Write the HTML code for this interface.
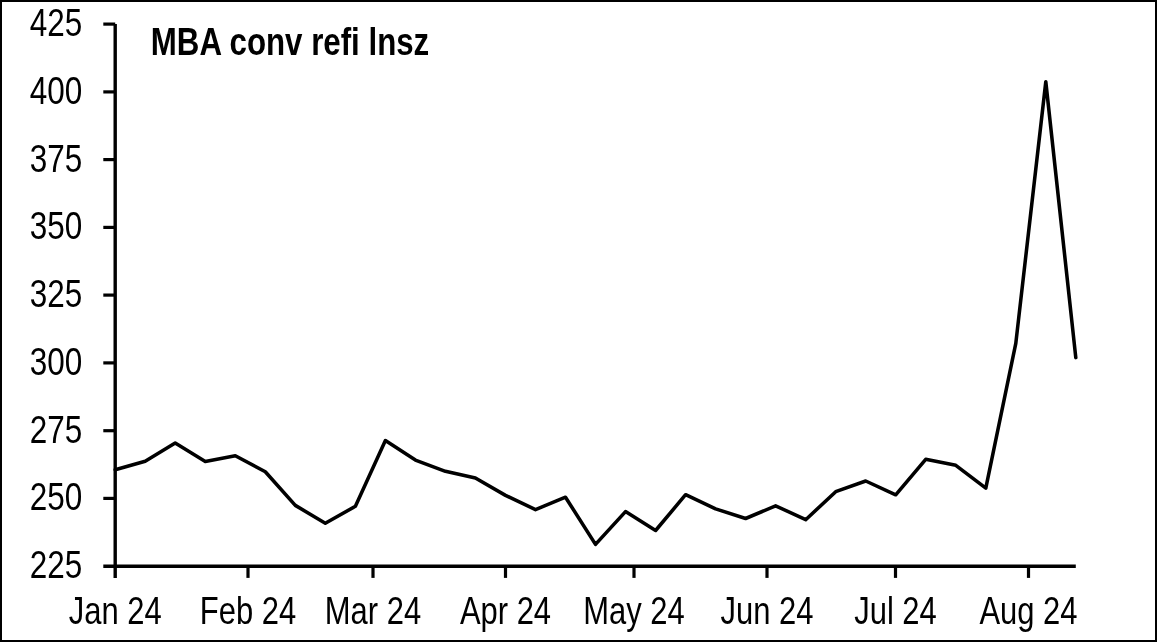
<!DOCTYPE html>
<html><head><meta charset="utf-8"><style>
html,body{margin:0;padding:0;background:#fff;}
.wrap{position:relative;width:1157px;height:642px;box-sizing:border-box;border:2px solid #000;background:#fff;overflow:hidden;}
svg{position:absolute;left:-2px;top:-2px;will-change:transform;}
.t,.b{font-family:"Liberation Sans",sans-serif;fill:#000;font-variant-ligatures:none;}
.b{font-weight:bold;}
</style></head><body><div class="wrap"><svg width="1157" height="642" viewBox="0 0 1157 642">
<line x1="115.2" y1="23.9" x2="115.2" y2="578" stroke="#000" stroke-width="3.4"/>
<line x1="103.3" y1="566.2" x2="1075.8" y2="566.2" stroke="#000" stroke-width="3.4"/>
<line x1="103.3" y1="24.1" x2="115.2" y2="24.1" stroke="#000" stroke-width="3.2"/>
<line x1="103.3" y1="91.9" x2="115.2" y2="91.9" stroke="#000" stroke-width="3.2"/>
<line x1="103.3" y1="159.6" x2="115.2" y2="159.6" stroke="#000" stroke-width="3.2"/>
<line x1="103.3" y1="227.4" x2="115.2" y2="227.4" stroke="#000" stroke-width="3.2"/>
<line x1="103.3" y1="295.1" x2="115.2" y2="295.1" stroke="#000" stroke-width="3.2"/>
<line x1="103.3" y1="362.9" x2="115.2" y2="362.9" stroke="#000" stroke-width="3.2"/>
<line x1="103.3" y1="430.7" x2="115.2" y2="430.7" stroke="#000" stroke-width="3.2"/>
<line x1="103.3" y1="498.4" x2="115.2" y2="498.4" stroke="#000" stroke-width="3.2"/>
<line x1="248.0" y1="566.2" x2="248.0" y2="577.9" stroke="#000" stroke-width="3.2"/>
<line x1="373.0" y1="566.2" x2="373.0" y2="577.9" stroke="#000" stroke-width="3.2"/>
<line x1="505.5" y1="566.2" x2="505.5" y2="577.9" stroke="#000" stroke-width="3.2"/>
<line x1="634.0" y1="566.2" x2="634.0" y2="577.9" stroke="#000" stroke-width="3.2"/>
<line x1="767.0" y1="566.2" x2="767.0" y2="577.9" stroke="#000" stroke-width="3.2"/>
<line x1="895.5" y1="566.2" x2="895.5" y2="577.9" stroke="#000" stroke-width="3.2"/>
<line x1="1028.5" y1="566.2" x2="1028.5" y2="577.9" stroke="#000" stroke-width="3.2"/>
<polyline points="115.2,469.8 145.2,461.3 175.2,443.0 205.3,461.4 235.3,455.8 265.3,471.8 295.3,505.4 325.3,523.2 355.4,506.3 385.4,440.6 415.4,460.1 445.4,471.3 475.4,478.0 505.5,495.4 535.5,509.6 565.5,497.2 595.5,544.4 625.5,511.6 655.6,530.5 685.6,494.7 715.6,508.9 745.6,518.5 775.6,505.8 805.7,519.7 835.7,491.7 865.7,481.0 895.7,494.8 925.7,459.3 955.8,465.3 985.8,488.2 1015.8,343.4 1045.8,81.8 1075.8,357.6" fill="none" stroke="#000" stroke-width="3.55" stroke-linejoin="round" stroke-linecap="round"/>
<g class="t" style="font-size:38.6px" transform="scale(0.815,1)"><text x="100.86" y="36.10" text-anchor="end">425</text><text x="100.86" y="103.86" text-anchor="end">400</text><text x="100.86" y="171.62" text-anchor="end">375</text><text x="100.86" y="239.38" text-anchor="end">350</text><text x="100.86" y="307.14" text-anchor="end">325</text><text x="100.86" y="374.90" text-anchor="end">300</text><text x="100.86" y="442.66" text-anchor="end">275</text><text x="100.86" y="510.42" text-anchor="end">250</text><text x="100.86" y="578.18" text-anchor="end">225</text></g>
<g class="t" style="font-size:38.9px" transform="scale(0.796,1)"><text x="144.72" y="623.80" text-anchor="middle">Jan 24</text><text x="311.56" y="623.80" text-anchor="middle">Feb 24</text><text x="468.59" y="623.80" text-anchor="middle">Mar 24</text><text x="635.05" y="623.80" text-anchor="middle">Apr 24</text><text x="796.48" y="623.80" text-anchor="middle">May 24</text><text x="963.57" y="623.80" text-anchor="middle">Jun 24</text><text x="1125.00" y="623.80" text-anchor="middle">Jul 24</text><text x="1292.09" y="623.80" text-anchor="middle">Aug 24</text></g>
<text x="187.10" y="55.00" transform="scale(0.806,1)" class="b" style="font-size:38.8px">MBA conv refi lnsz</text>
</svg></div></body></html>
